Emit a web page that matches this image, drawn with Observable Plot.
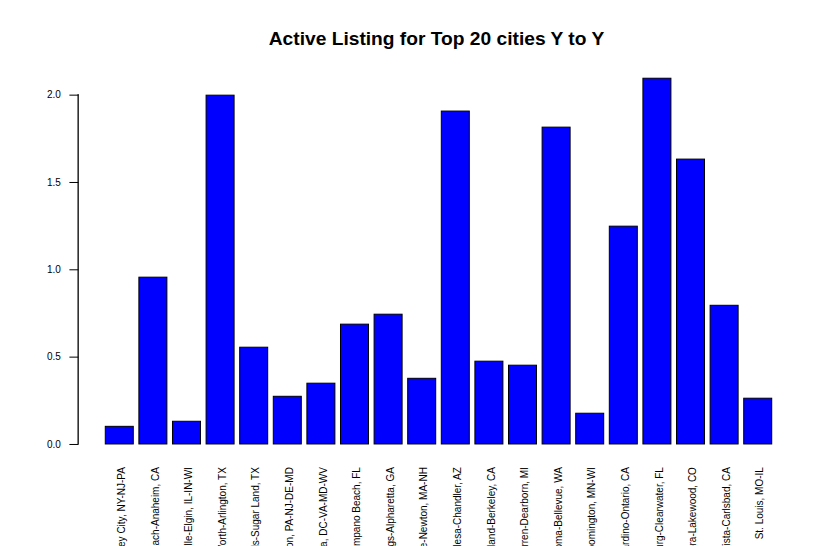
<!DOCTYPE html>
<html>
<head>
<meta charset="utf-8">
<script src="https://cdn.jsdelivr.net/npm/d3@7"></script>
<script src="https://cdn.jsdelivr.net/npm/@observablehq/plot@0.6"></script>
<style>
  html, body { margin: 0; padding: 0; background: white; }
  #wrap { position: relative; width: 838px; height: 546px; overflow: hidden; }
  #title { position: absolute; left: 78px; width: 717px; top: 27.5px; text-align: center;
           font-family: "Liberation Sans", Arial, sans-serif; font-weight: bold; font-size: 19.2px; color: black; }
  svg { font-family: "Liberation Sans", Arial, sans-serif; }
</style>
</head>
<body>
<div id="wrap"><div id="title">Active Listing for Top 20 cities Y to Y</div></div>
<script>
const cities = [
  "New York-Newark-Jersey City, NY-NJ-PA",
  "Los Angeles-Long Beach-Anaheim, CA",
  "Chicago-Naperville-Elgin, IL-IN-WI",
  "Dallas-Fort Worth-Arlington, TX",
  "Houston-The Woodlands-Sugar Land, TX",
  "Philadelphia-Camden-Wilmington, PA-NJ-DE-MD",
  "Washington-Arlington-Alexandria, DC-VA-MD-WV",
  "Miami-Fort Lauderdale-Pompano Beach, FL",
  "Atlanta-Sandy Springs-Alpharetta, GA",
  "Boston-Cambridge-Newton, MA-NH",
  "Phoenix-Mesa-Chandler, AZ",
  "San Francisco-Oakland-Berkeley, CA",
  "Detroit-Warren-Dearborn, MI",
  "Seattle-Tacoma-Bellevue, WA",
  "Minneapolis-St. Paul-Bloomington, MN-WI",
  "Riverside-San Bernardino-Ontario, CA",
  "Tampa-St. Petersburg-Clearwater, FL",
  "Denver-Aurora-Lakewood, CO",
  "San Diego-Chula Vista-Carlsbad, CA",
  "St. Louis, MO-IL"
];
const values = [0.101, 0.955, 0.130, 1.997, 0.554, 0.273, 0.348, 0.686, 0.743, 0.376,
                1.906, 0.474, 0.451, 1.814, 0.176, 1.247, 2.094, 1.631, 0.794, 0.262];
const yTicks = [0, 0.5, 1.0, 1.5, 2.0];

const data = cities.map((c, i) => ({city: c, value: values[i]}));
const yMax = d3.max(values);
const ext = yMax * 0.04;
const mLeft = 78.4;

const chart = Plot.plot({
  width: 838,
  height: 546,
  marginLeft: mLeft,
  marginRight: 39.4,
  marginTop: 63.6,
  marginBottom: 87.4,
  style: {background: "white", color: "black", fontFamily: "Liberation Sans, Arial, sans-serif"},
  x: {type: "band", domain: cities, paddingInner: 1/6, paddingOuter: 0.8, align: 0.5, round: false},
  y: {domain: [-ext, yMax + ext]},
  marks: [
    Plot.barY(data, {x: "city", y: "value", fill: "#0000ff", stroke: "black", strokeWidth: 1}),
    Plot.axisY({ticks: yTicks, tickFormat: d3.format(".1f"), tickSize: 9, tickPadding: 9,
                fontSize: 10, stroke: "black", label: null}),
    Plot.axisX({tickSize: 0, tickRotate: -90, tickPadding: 8, dx: 2, fontSize: 10, label: null})
  ]
});
// y axis line from first to last tick, positioned through the plot's own y scale
const ys = chart.scale("y");
const yA = ys.apply(yTicks[0]), yB = ys.apply(yTicks[yTicks.length - 1]);
const ns = "http://www.w3.org/2000/svg";
const ln = document.createElementNS(ns, "rect");
ln.setAttribute("x", Math.round(mLeft) - 0.5);
ln.setAttribute("y", yB - 0.5);
ln.setAttribute("width", 1.3);
ln.setAttribute("height", yA - yB + 1);
ln.setAttribute("fill", "#000000");
chart.appendChild(ln);
document.getElementById("wrap").prepend(chart);
</script>
</body>
</html>
